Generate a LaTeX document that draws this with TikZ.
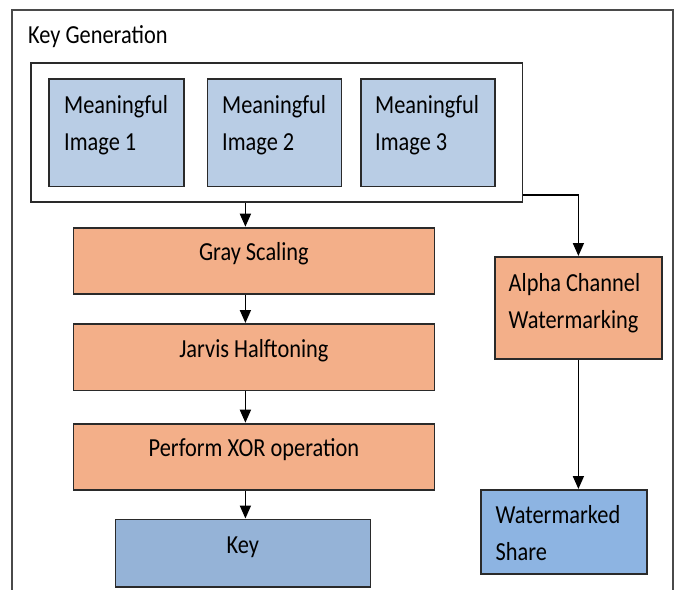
\documentclass[tikz,border=0pt]{standalone}
\usepackage{fontspec}
\setmainfont{Carlito}[FakeStretch=0.86]
\usetikzlibrary{arrows.meta}
\definecolor{imgblue}{HTML}{B9CDE5}
\definecolor{procorange}{HTML}{F3AF89}
\definecolor{keyblue}{HTML}{95B3D7}
\definecolor{wmblue}{HTML}{8DB4E2}
\definecolor{edge}{HTML}{2A2A2A}
\newcommand{\twoln}[2]{\vtop{\baselineskip=37pt\lineskiplimit=-10pt\hbox{#1}\hbox{#2}}}
\begin{document}
\begin{tikzpicture}[x=1pt,y=-1pt,
  every node/.style={font=\fontsize{26}{31}\selectfont, text=black},
  box/.style={draw=edge, line width=1.8pt, inner sep=0pt, anchor=north west},
  imgbox/.style={box, fill=imgblue},
  procbox/.style={box, fill=procorange},
  onel/.style={text height=16pt, text depth=16pt},
  txt/.style={anchor=base west, inner sep=0pt},
  arr/.style={draw=black, line width=1.7pt, -{Triangle[width=11pt,length=13pt]}}]
\useasboundingbox (0,0) rectangle (676,589);
% outer frame
\draw[draw=edge!85, line width=1.9pt] (12,600) -- (12,10) -- (673,10) -- (673,600);
\node[txt] (title) at (28,43) {Key Generation};
% inner box with images
\node[box, fill=white, minimum width=491.5pt, minimum height=139pt] (inner) at (30,62) {};
\node[imgbox, minimum width=135pt, minimum height=107.5pt] (m1) at (48,78) {};
\node[imgbox, minimum width=134pt, minimum height=107.5pt] (m2) at (206.5,78) {};
\node[imgbox, minimum width=134pt, minimum height=107.5pt] (m3) at (360,78) {};
\node[txt] (t1) at (64,113) {\twoln{Meaningful}{Image 1}};
\node[txt] (t2) at (222,113) {\twoln{Meaningful}{Image 2}};
\node[txt] (t3) at (375,113) {\twoln{Meaningful}{Image 3}};
% process chain
\node[procbox, onel, minimum width=361pt, minimum height=66.5pt] (gray) at (72.5,226.7) {Gray Scaling};
\node[procbox, onel, minimum width=361pt, minimum height=66.5pt] (jarvis) at (72.5,323) {Jarvis Halftoning};
\node[procbox, onel, minimum width=361pt, minimum height=66.5pt] (xor) at (72.5,422.7) {Perform XOR operation};
\node[box, onel, fill=keyblue, minimum width=255pt, minimum height=67.5pt] (key) at (114.5,518.5) {Key};
% right branch
\node[procbox, minimum width=167pt, minimum height=102pt] (alpha) at (494,256) {};
\node[txt] (ta) at (508.5,291.7) {\twoln{Alpha Channel}{Watermarking}};
\node[box, fill=wmblue, minimum width=166pt, minimum height=84pt] (wm) at (480,489) {};
\node[txt] (tw) at (495.5,523) {\twoln{Watermarked}{Share}};
% connectors
\draw[arr] ([xshift=2.5pt]inner.south -| key.north) -- ([xshift=2.5pt]gray.north -| key.north);
\draw[arr] ([xshift=2.5pt]gray.south -| key.north) -- ([xshift=2.5pt]jarvis.north -| key.north);
\draw[arr] ([xshift=2.5pt]jarvis.south -| key.north) -- ([xshift=2.5pt]xor.north -| key.north);
\draw[arr] ([xshift=2.5pt]xor.south -| key.north) -- ([xshift=2.5pt]key.north);
\draw[arr] ([yshift=8pt]inner.south east) -| (alpha.north);
\draw[arr] (alpha.south) -- (alpha.south |- wm.north);
\end{tikzpicture}
\end{document}
